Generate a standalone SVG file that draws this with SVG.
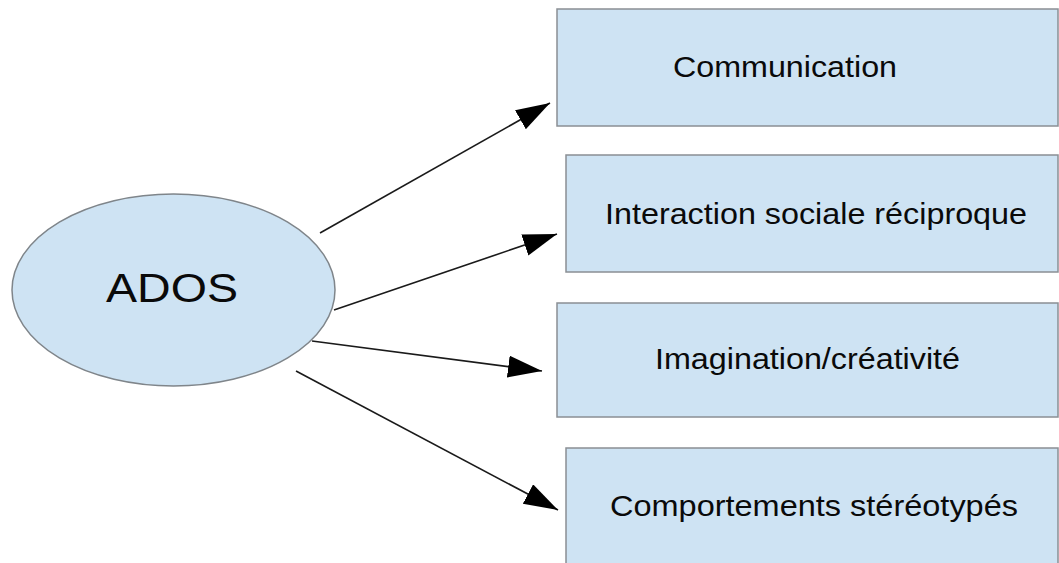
<svg xmlns="http://www.w3.org/2000/svg" width="1059" height="563" viewBox="0 0 1059 563">
  <style>
    .box { fill: #cee3f3; stroke: #8a8f94; stroke-width: 1.5; }
    .oval { fill: #cee3f3; stroke: #7f858a; stroke-width: 1.5; }
    .lbl { font-family: "Liberation Sans", Arial, sans-serif; font-size: 30px; fill: #0a0a0a; }
    .big { font-family: "Liberation Sans", Arial, sans-serif; font-size: 41px; fill: #0a0a0a; }
    .edge { stroke: #1a1a1a; stroke-width: 1.6; fill: none; marker-end: url(#arrow); }
  </style>
  <defs>
    <marker id="arrow" markerUnits="userSpaceOnUse" markerWidth="36" markerHeight="24" refX="34" refY="11" orient="auto">
      <path d="M0,0 L34,11 L0,22 Z" fill="#000"/>
    </marker>
  </defs>
  <rect width="1059" height="563" fill="#fff"/>

  <g id="connectors">
    <line class="edge" x1="320" y1="233" x2="550" y2="103"/>
    <line class="edge" x1="334" y1="310" x2="557" y2="234"/>
    <line class="edge" x1="312" y1="341" x2="542" y2="371"/>
    <line class="edge" x1="296" y1="371" x2="558" y2="510"/>
  </g>

  <g id="ados">
    <ellipse class="oval" cx="173.5" cy="290" rx="161.5" ry="96"/>
    <text class="big" x="106" y="302" textLength="132" lengthAdjust="spacingAndGlyphs">ADOS</text>
  </g>

  <g id="communication">
    <rect class="box" x="557" y="9" width="501" height="117"/>
    <text class="lbl" x="673" y="77" textLength="224" lengthAdjust="spacingAndGlyphs">Communication</text>
  </g>

  <g id="interaction">
    <rect class="box" x="566" y="155" width="492" height="117"/>
    <text class="lbl" x="605" y="224" textLength="422" lengthAdjust="spacingAndGlyphs">Interaction sociale réciproque</text>
  </g>

  <g id="imagination">
    <rect class="box" x="557" y="303" width="501" height="114"/>
    <text class="lbl" x="655" y="369" textLength="305" lengthAdjust="spacingAndGlyphs">Imagination/créativité</text>
  </g>

  <g id="comportements">
    <rect class="box" x="566" y="448" width="492" height="125"/>
    <text class="lbl" x="610" y="516" textLength="408" lengthAdjust="spacingAndGlyphs">Comportements stéréotypés</text>
  </g>
</svg>
